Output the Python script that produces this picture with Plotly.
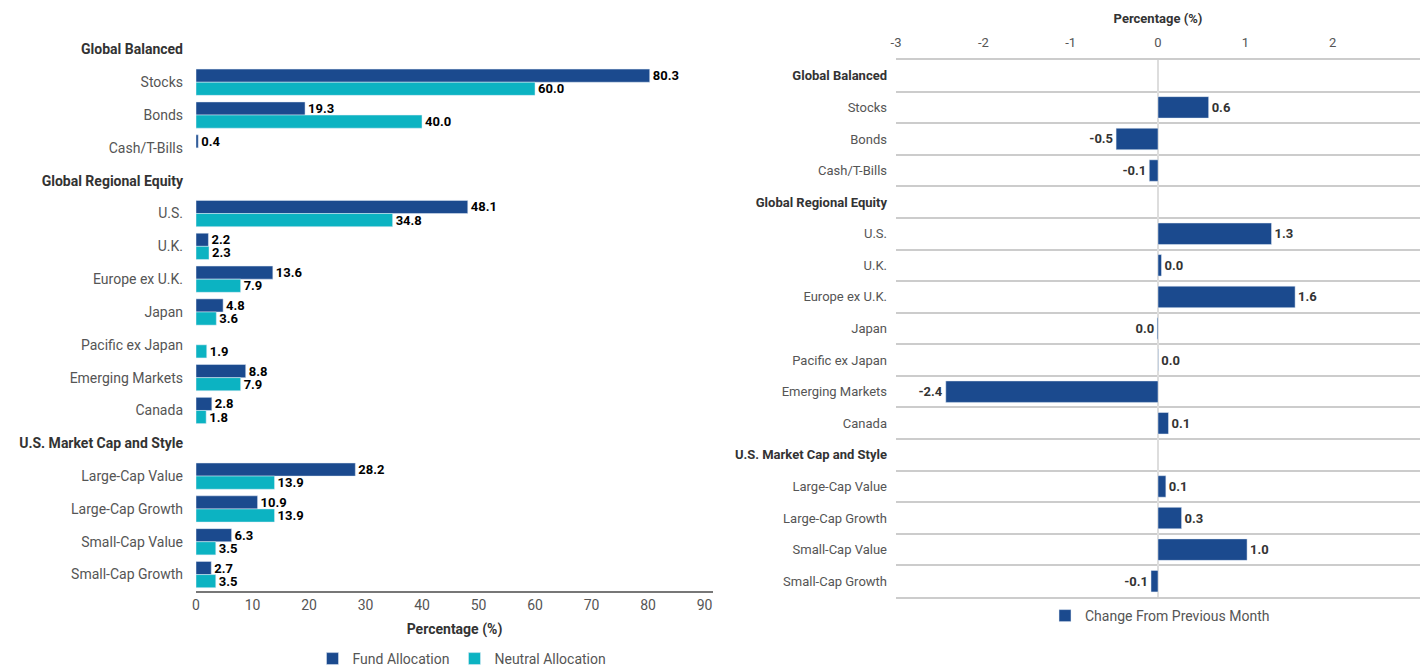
import plotly.graph_objects as go

FONT = "Roboto, sans-serif"

categories = ["Global Balanced", "Stocks", "Bonds", "Cash/T-Bills",
              "Global Regional Equity", "U.S.", "U.K.", "Europe ex U.K.", "Japan",
              "Pacific ex Japan", "Emerging Markets", "Canada",
              "U.S. Market Cap and Style", "Large-Cap Value", "Large-Cap Growth",
              "Small-Cap Value", "Small-Cap Growth"]
headers = {"Global Balanced", "Global Regional Equity", "U.S. Market Cap and Style"}

fund_alloc = [None, 80.3, 19.3, 0.4,
              None, 48.1, 2.2, 13.6, 4.8, None, 8.8, 2.8,
              None, 28.2, 10.9, 6.3, 2.7]
neutral_alloc = [None, 60.0, 40.0, None,
                 None, 34.8, 2.3, 7.9, 3.6, 1.9, 7.9, 1.8,
                 None, 13.9, 13.9, 3.5, 3.5]
change = [None, 0.58, -0.48, -0.1,
          None, 1.3, 0.04, 1.57, -0.01, 0.004, -2.43, 0.12,
          None, 0.09, 0.27, 1.02, -0.08]

left_ticks = [0, 10, 20, 30, 40, 50, 60, 70, 80, 90]
right_ticks = [-3, -2, -1, 0, 1, 2]

FUND = "#1b4a8e"
TEAL = "#0cb3c2"


def fmt(v):
    if v is None:
        return ""
    s = f"{v:.1f}"
    return "0.0" if s == "-0.0" else s


def ticktext():
    out = []
    for c in categories:
        if c in headers:
            out.append(f"<b><span style='color:#333'>{c}</span></b>")
        else:
            out.append(c)
    return out


fig = go.Figure()
fig.add_trace(go.Bar(
    y=categories, x=fund_alloc, orientation="h", name="Fund Allocation",
    marker=dict(color=FUND), text=[fmt(v) for v in fund_alloc],
    textposition="outside", cliponaxis=False, constraintext="none",
    textfont=dict(family=FONT, size=13, color="#000"),
    xaxis="x", yaxis="y", legend="legend"))
fig.add_trace(go.Bar(
    y=categories, x=neutral_alloc, orientation="h", name="Neutral Allocation",
    marker=dict(color=TEAL), text=[fmt(v) for v in neutral_alloc],
    textposition="outside", cliponaxis=False, constraintext="none",
    textfont=dict(family=FONT, size=13, color="#000"),
    xaxis="x", yaxis="y", legend="legend"))
fig.add_trace(go.Bar(
    y=categories, x=change, orientation="h", name="Change From Previous Month",
    marker=dict(color=FUND), text=[fmt(v) for v in change], width=0.68,
    textposition="outside", cliponaxis=False, constraintext="none",
    textfont=dict(family=FONT, size=13, color="#333"),
    xaxis="x2", yaxis="y2", legend="legend2"))

fig.update_traces(texttemplate="<b>%{text}</b>")

fig.update_layout(
    width=1424, height=669,
    margin=dict(l=0, r=0, t=0, b=0, autoexpand=False),
    paper_bgcolor="white", plot_bgcolor="white",
    font=dict(family=FONT, size=14, color="#555"),
    barmode="group", bargap=0.2, bargroupgap=0,
    xaxis=dict(domain=[196 / 1424, 713 / 1424], range=[0, 91.5],
               tickvals=left_ticks, ticktext=[str(t) for t in left_ticks],
               showgrid=False, zeroline=False,
               showline=True, linecolor="#777", linewidth=2,
               ticks="", ticklabelstandoff=0, tickfont=dict(size=14, color="#555"),
               title=dict(text="<b>Percentage (%)</b>", standoff=12,
                          font=dict(size=14, color="#333")),
               anchor="y", automargin=False),
    yaxis=dict(domain=[1 - 591 / 669, 1 - 33 / 669], type="category",
               categoryorder="array", categoryarray=categories,
               autorange="reversed", tickvals=categories, ticktext=ticktext(),
               showgrid=False, zeroline=False, showline=False, ticks="",
               ticklabelstandoff=12, tickfont=dict(size=14, color="#555"),
               anchor="x", automargin=False),
    xaxis2=dict(domain=[896 / 1424, 1420 / 1424], range=[-3, 3], side="top",
                tickvals=right_ticks, ticktext=[str(t) for t in right_ticks],
                showgrid=False, zeroline=True,
                zerolinecolor="#ddd", zerolinewidth=1.5,
                showline=True, mirror=True, linecolor="#ccc", linewidth=2,
                ticks="", ticklabelstandoff=6, tickfont=dict(size=13, color="#555"),
                title=dict(text="<b>Percentage (%)</b>", standoff=8,
                           font=dict(size=13, color="#333")),
                anchor="y2", automargin=False),
    yaxis2=dict(domain=[1 - 597 / 669, 1 - 60 / 669], type="category",
                categoryorder="array", categoryarray=categories,
                autorange="reversed", tickvals=categories, ticktext=ticktext(),
                showgrid=True, gridcolor="#ccc", gridwidth=2, tickson="boundaries",
                zeroline=False, showline=False, ticks="",
                ticklabelstandoff=8, tickfont=dict(size=13, color="#555"),
                anchor="x2", automargin=False),
    legend=dict(orientation="h", x=462 / 1424, xanchor="center",
                y=1 - 659 / 669, yanchor="middle",
                font=dict(size=14, color="#555"), itemwidth=30,
                traceorder="normal"),
    legend2=dict(orientation="h", x=1160 / 1424, xanchor="center",
                 y=1 - 616 / 669, yanchor="middle",
                 font=dict(size=14, color="#555")),
)

fig.write_html("out.html")
